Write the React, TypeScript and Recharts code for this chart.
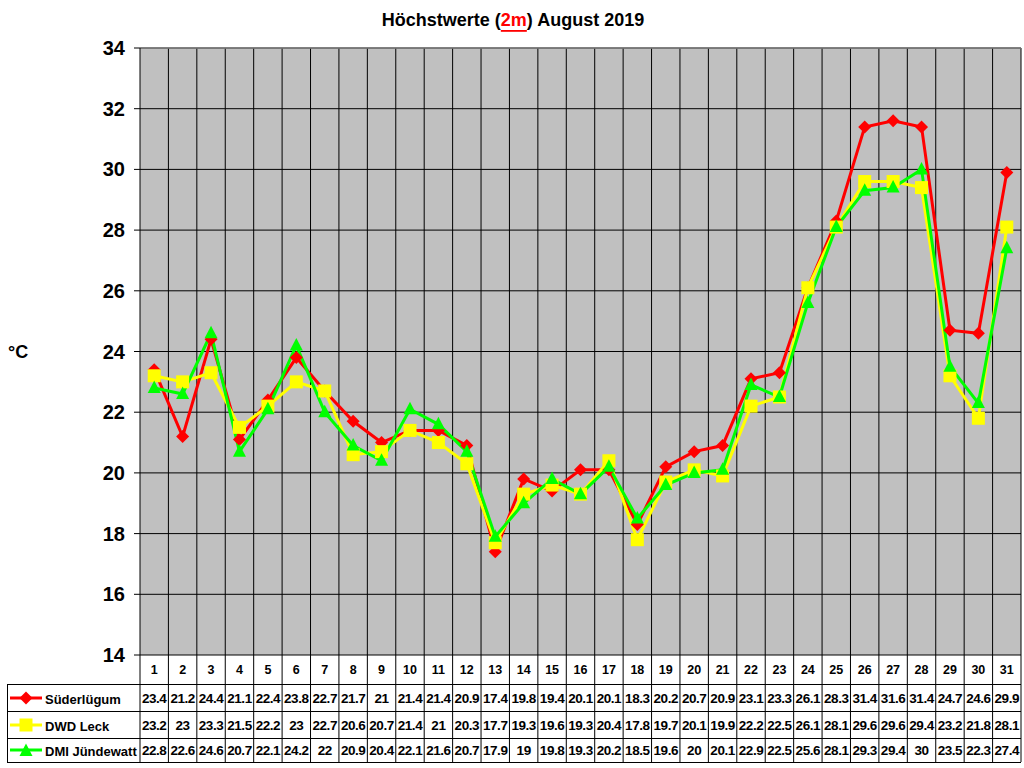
import React from "react";
import {
  LineChart,
  Line,
  XAxis,
  YAxis,
  CartesianGrid,
  ReferenceLine,
} from "recharts";

const days = [
  "1", "2", "3", "4", "5", "6", "7", "8", "9", "10", "11", "12", "13", "14", "15", "16",
  "17", "18", "19", "20", "21", "22", "23", "24", "25", "26", "27", "28", "29", "30", "31",
];

const suederluegum = [
  23.4, 21.2, 24.4, 21.1, 22.4, 23.8, 22.7, 21.7, 21, 21.4, 21.4, 20.9, 17.4, 19.8, 19.4, 20.1,
  20.1, 18.3, 20.2, 20.7, 20.9, 23.1, 23.3, 26.1, 28.3, 31.4, 31.6, 31.4, 24.7, 24.6, 29.9,
];
const dwdLeck = [
  23.2, 23, 23.3, 21.5, 22.2, 23, 22.7, 20.6, 20.7, 21.4, 21, 20.3, 17.7, 19.3, 19.6, 19.3,
  20.4, 17.8, 19.7, 20.1, 19.9, 22.2, 22.5, 26.1, 28.1, 29.6, 29.6, 29.4, 23.2, 21.8, 28.1,
];
const dmiJuendewatt = [
  22.8, 22.6, 24.6, 20.7, 22.1, 24.2, 22, 20.9, 20.4, 22.1, 21.6, 20.7, 17.9, 19, 19.8, 19.3,
  20.2, 18.5, 19.6, 20, 20.1, 22.9, 22.5, 25.6, 28.1, 29.3, 29.4, 30, 23.5, 22.3, 27.4,
];

const yTicks = [14, 16, 18, 20, 22, 24, 26, 28, 30, 32, 34];

const seriesNames = ["Süderlügum", "DWD Leck", "DMI Jündewatt"];

const data = days.map((d, i) => ({
  day: d,
  sued: suederluegum[i],
  leck: dwdLeck[i],
  juen: dmiJuendewatt[i],
}));

// layout
const W = 1024;
const H = 768;
const PLOT_LEFT = 140;
const PLOT_RIGHT = 1021;
const PLOT_TOP = 48;
const PLOT_BOTTOM = 655;
const BAND = (PLOT_RIGHT - PLOT_LEFT) / days.length;
const ROW_LINES = [684, 711, 738, 762];
const ROW_CENTERS = [698, 725, 750];
const FONT = "Arial, 'Liberation Sans', sans-serif";

const Diamond = (props: any) => {
  const { cx, cy } = props;
  if (cx == null || cy == null) return null;
  const r = 6.5;
  return (
    <polygon
      points={`${cx},${cy - r} ${cx + r},${cy} ${cx},${cy + r} ${cx - r},${cy}`}
      fill="#FF0000"
    />
  );
};

const Square = (props: any) => {
  const { cx, cy } = props;
  if (cx == null || cy == null) return null;
  return <rect x={cx - 6.5} y={cy - 6.5} width={13} height={13} fill="#FFFF00" />;
};

const Triangle = (props: any) => {
  const { cx, cy } = props;
  if (cx == null || cy == null) return null;
  return (
    <polygon
      points={`${cx},${cy - 7.5} ${cx + 6.5},${cy + 5} ${cx - 6.5},${cy + 5}`}
      fill="#00FF00"
    />
  );
};

const rows = [suederluegum, dwdLeck, dmiJuendewatt];

// every x tick draws one column of the data table below the plot
const TableTick = (props: any) => {
  const { x, payload } = props;
  const i = payload.index;
  const right = x + BAND / 2;
  const left = x - BAND / 2;
  return (
    <g fontFamily={FONT} fontWeight="bold" fill="#000">
      {i === 0 && (
        <line x1={left} y1={PLOT_BOTTOM} x2={left} y2={ROW_LINES[3]} stroke="#000" />
      )}
      <line x1={right} y1={PLOT_BOTTOM} x2={right} y2={ROW_LINES[3]} stroke="#000" />
      <text x={x} y={670} textAnchor="middle" dominantBaseline="central" fontSize={12.5}>
        {payload.value}
      </text>
      {rows.map((r, k) => (
        <text
          key={k}
          x={x}
          y={ROW_CENTERS[k]}
          textAnchor="middle"
          dominantBaseline="central"
          fontSize={13.5}
          letterSpacing={-0.45}
        >
          {r[i]}
        </text>
      ))}
    </g>
  );
};

const YTick = (props: any) => {
  const { x, y, payload } = props;
  return (
    <text
      x={x}
      y={y}
      textAnchor="end"
      dominantBaseline="central"
      fontFamily={FONT}
      fontWeight="bold"
      fontSize={20}
      fill="#000"
    >
      {payload.value}
    </text>
  );
};

function LegendMarker({ k, y }: { k: number; y: number }) {
  const cx = 26;
  if (k === 0)
    return (
      <g>
        <line x1={10} y1={y} x2={42} y2={y} stroke="#FF0000" strokeWidth={3} />
        <Diamond cx={cx} cy={y} />
      </g>
    );
  if (k === 1)
    return (
      <g>
        <line x1={10} y1={y} x2={42} y2={y} stroke="#FFFF00" strokeWidth={3} />
        <Square cx={cx} cy={y} />
      </g>
    );
  return (
    <g>
      <line x1={10} y1={y} x2={42} y2={y} stroke="#00FF00" strokeWidth={3} />
      <Triangle cx={cx} cy={y + 1} />
    </g>
  );
}

export default function App() {
  return (
    <div
      style={{
        position: "absolute",
        left: 0,
        top: 0,
        width: W,
        height: H,
        background: "#fff",
      }}
    >
      <LineChart
        width={W}
        height={H}
        data={data}
        margin={{ top: PLOT_TOP, right: W - PLOT_RIGHT, bottom: 13, left: 0 }}
      >
        <CartesianGrid
          stroke="#000"
          strokeOpacity={1}
          fill="#C0C0C0"
          fillOpacity={1}
          verticalCoordinatesGenerator={({ offset }: any) =>
            days.map((_, i) => offset.left + ((i + 1) * offset.width) / days.length)
          }
        />
        <ReferenceLine y={34} stroke="#808080" strokeWidth={1.5} />
        <XAxis
          dataKey="day"
          scale="band"
          height={100}
          axisLine={false}
          tickLine={false}
          interval={0}
          tick={<TableTick />}
        />
        <YAxis
          width={PLOT_LEFT}
          domain={[14, 34]}
          ticks={yTicks}
          interval={0}
          tickSize={6}
          tickMargin={9}
          axisLine={{ stroke: "#000" }}
          tickLine={{ stroke: "#000" }}
          tick={<YTick />}
        />
        <Line
          dataKey="sued"
          stroke="#FF0000"
          strokeWidth={3}
          dot={<Diamond />}
          activeDot={false}
          isAnimationActive={false}
        />
        <Line
          dataKey="leck"
          stroke="#FFFF00"
          strokeWidth={3}
          dot={<Square />}
          activeDot={false}
          isAnimationActive={false}
        />
        <Line
          dataKey="juen"
          stroke="#00FF00"
          strokeWidth={3}
          dot={<Triangle />}
          activeDot={false}
          isAnimationActive={false}
        />
      </LineChart>
      <svg
        width={W}
        height={H}
        style={{ position: "absolute", left: 0, top: 0, pointerEvents: "none" }}
        fontFamily={FONT}
        fontWeight="bold"
      >
        <text x={513} y={20} textAnchor="middle" dominantBaseline="central" fontSize={18}>
          Höchstwerte (
          <tspan fill="#FF0000" textDecoration="underline">
            2m
          </tspan>
          ) August 2019
        </text>
        <text x={8} y={352} dominantBaseline="central" fontSize={18}>
          °C
        </text>
        {ROW_LINES.map((y) => (
          <line key={y} x1={7} y1={y + 0.5} x2={PLOT_RIGHT} y2={y + 0.5} stroke="#000" />
        ))}
        <line x1={7.5} y1={ROW_LINES[0]} x2={7.5} y2={ROW_LINES[3] + 1} stroke="#000" />
        {seriesNames.map((n, k) => (
          <g key={n}>
            <LegendMarker k={k} y={ROW_CENTERS[k]} />
            <text x={45} y={ROW_CENTERS[k] + 1} dominantBaseline="central" fontSize={13}>
              {n}
            </text>
          </g>
        ))}
      </svg>
    </div>
  );
}
